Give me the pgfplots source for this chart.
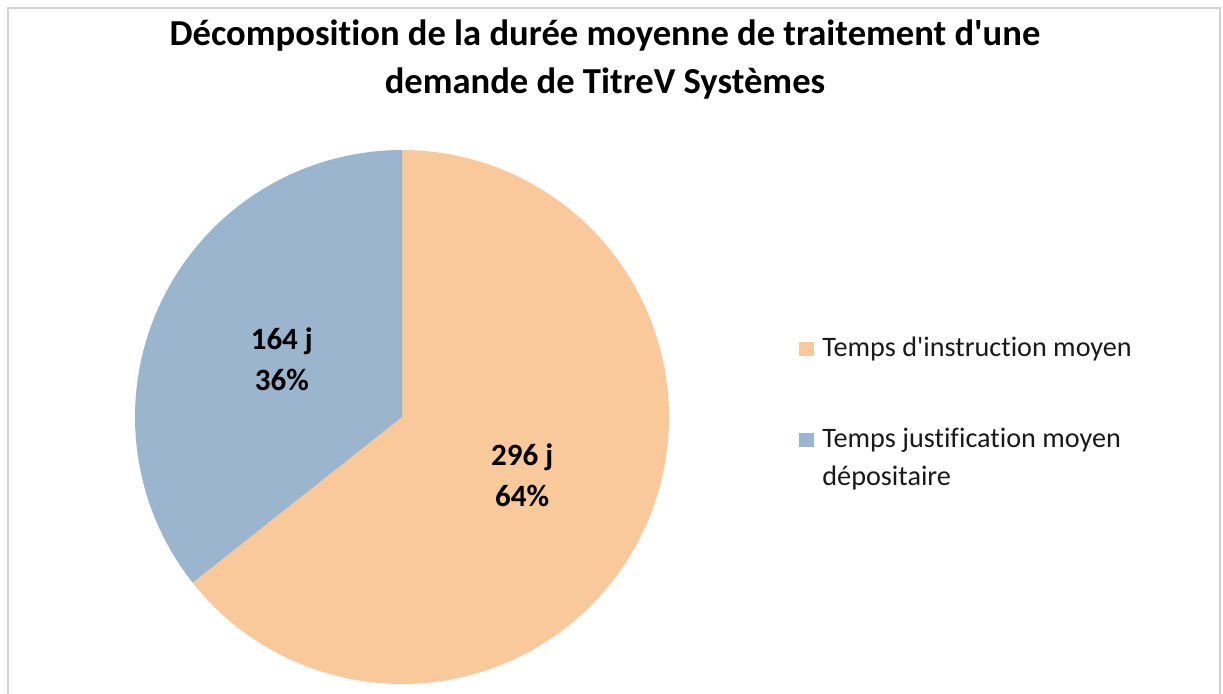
\documentclass[border=0pt]{standalone}
\usepackage{fontspec}
\setmainfont{Carlito}[Ligatures=NoCommon]
\usepackage{pgfplots}
\pgfplotsset{compat=1.18}

\definecolor{orangeP}{HTML}{FAC99B}
\definecolor{blueP}{HTML}{9CB5CE}

% durées moyennes (jours)
\def\vInstr{296}
\def\vJustif{164}

\begin{document}
\begin{tikzpicture}
\pgfmathsetmacro\total{\vInstr+\vJustif}
\pgfmathsetmacro\fracA{\vInstr/\total}
\pgfmathsetmacro\angA{360*\fracA}
\pgfmathsetmacro\lo{90-\angA}
\pgfmathsetmacro\hi{90+360-\angA}
\pgfmathsetmacro\midA{90-\angA/2}
\pgfmathsetmacro\midB{90+(360-\angA)/2}
\pgfmathtruncatemacro\pA{round(100*\fracA)}
\pgfmathtruncatemacro\pB{round(100*(1-\fracA))}

\begin{scope}[x=0.5pt,y=-0.5pt]
\path[use as bounding box] (0,0) rectangle (1223,693);
\draw[black!18, line width=1pt] (8,700) -- (8,8) -- (1220,8) -- (1220,700);
\node[anchor=base, font=\bfseries\fontsize{18.3}{24}\selectfont] at (605,45) {Décomposition de la durée moyenne de traitement d\textquotesingle une};
\node[anchor=base, font=\bfseries\fontsize{18.3}{24}\selectfont] at (605,93) {demande de TitreV Systèmes};

% légende
\fill[orangeP] (799,342) rectangle (814,356);
\node[anchor=base west, inner sep=0, font=\fontsize{14.1}{19}\selectfont, text=black!90] at (822,356) {Temps d\textquotesingle instruction moyen};
\fill[blueP] (799,433) rectangle (814,447);
\node[anchor=base west, inner sep=0, font=\fontsize{14.1}{19}\selectfont, text=black!90] at (822,447) {Temps justification moyen};
\node[anchor=base west, inner sep=0, font=\fontsize{14.1}{19}\selectfont, text=black!90] at (822,485) {dépositaire};
\end{scope}

\begin{axis}[at={(201pt,-208.5pt)}, anchor=center,
  width=267pt, height=267pt, scale only axis, hide axis,
  xmin=-1, xmax=1, ymin=-1, ymax=1, clip=false]
\addplot[fill=orangeP, draw=none, domain=\lo:90, samples=160, variable=\t]
  ({cos(\t)},{sin(\t)}) -- (axis cs:0,0) -- cycle;
\addplot[fill=blueP, draw=none, domain=90:\hi, samples=120, variable=\t]
  ({cos(\t)},{sin(\t)}) -- (axis cs:0,0) -- cycle;
\pgfmathsetmacro\xa{0.5*cos(\midA)}
\pgfmathsetmacro\ya{0.5*sin(\midA)}
\pgfmathsetmacro\xb{0.5*cos(\midB)}
\pgfmathsetmacro\yb{0.5*sin(\midB)}
\node[align=center, font=\bfseries\fontsize{15.5}{20.5}\selectfont] at (axis cs:\xa,\ya) {\vInstr{} j\\\pA\%};
\node[align=center, font=\bfseries\fontsize{15.5}{20.5}\selectfont] at (axis cs:\xb,\yb) {\vJustif{} j\\\pB\%};
\end{axis}
\end{tikzpicture}
\end{document}
